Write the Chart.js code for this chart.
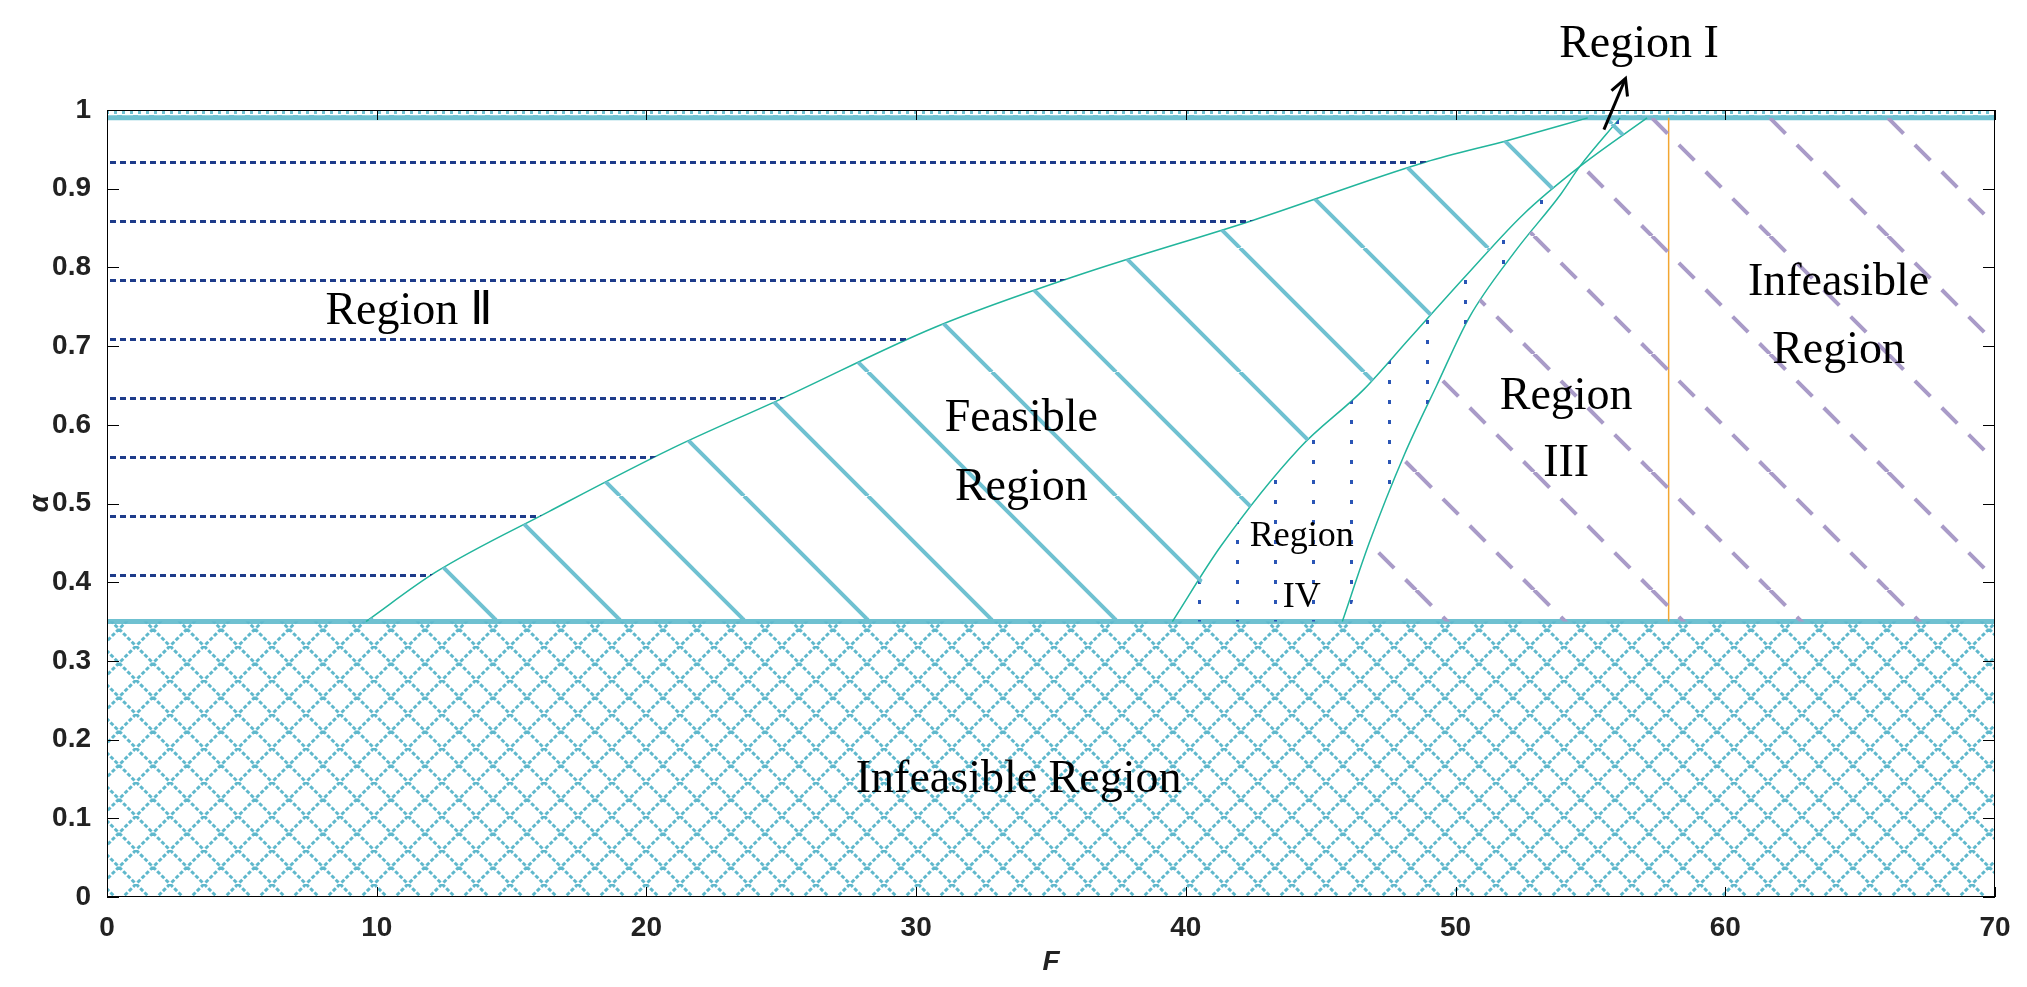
<!DOCTYPE html>
<html><head><meta charset="utf-8">
<script src="https://cdn.jsdelivr.net/npm/chart.js@4/dist/chart.umd.min.js"></script>
<style>html,body{margin:0;padding:0;background:#fff}#w{width:2027px;height:987px}</style>
</head><body><div id="w"><canvas id="c" width="2027" height="987"></canvas></div>
<script>
// ---- data (F, alpha) ----
const upperCurveF = [9.6, 12.2, 16.4, 20.95, 25, 30.7, 36, 42.5, 48.9, 52, 54.9];
const upperCurveA = [0.35, 0.413, 0.49, 0.57, 0.633, 0.724, 0.79, 0.86, 0.934, 0.962, 0.99];
const lowerFeasF = [39.5, 41.3, 44.2, 46.6, 48.3, 50.4, 52.5, 54.6, 57.1];
const lowerFeasA = [0.35, 0.446, 0.57, 0.645, 0.71, 0.79, 0.867, 0.928, 0.99];
const curveIIIF = [45.8, 46.8, 48.1, 49.3, 50.5, 52.2, 53.9, 54.6, 56.1];
const curveIIIA = [0.35, 0.45, 0.562, 0.65, 0.736, 0.82, 0.893, 0.928, 0.99];
const alphaMin = 0.35, alphaMax = 0.99;
const fMin = 0, fMax = 70, orangeF = 57.9;
const xTicks = [0,10,20,30,40,50,60,70];
const yTicks = [0,0.1,0.2,0.3,0.4,0.5,0.6,0.7,0.8,0.9,1];

const pts = (xs, ys) => xs.map((x,i)=>({x, y: ys[i]}));
const upper = pts(upperCurveF, upperCurveA);
const lowerFeas = pts(lowerFeasF, lowerFeasA);
const curveIII = pts(curveIIIF, curveIIIA);

// ---- patterns ----
function tile(w,h,draw){const c=document.createElement('canvas');c.width=w;c.height=h;const g=c.getContext('2d');draw(g,w,h);return g.createPattern(c,'repeat');}
const cyan='#6fc1d1', teal='#22b59c', purple='#a99bc8', navy='#1d3b8a', blue='#2a55b5';
const patFeas = tile(124,124,(g,w,h)=>{g.strokeStyle=cyan;g.lineWidth=4;for(const o of [-w,0,w]){g.beginPath();g.moveTo(o,0);g.lineTo(o+w,h);g.stroke();}});
const patIII = tile(118,118,(g,w,h)=>{g.strokeStyle=purple;g.lineWidth=4;g.setLineDash([22,16]);for(const o of [-w,0,w]){g.beginPath();g.moveTo(o,0);g.lineTo(o+w,h);g.stroke();}});
const patII = tile(10,59,(g,w,h)=>{g.fillStyle=navy;g.fillRect(0,43,6,3);});
const patIV = tile(38,20,(g,w,h)=>{g.fillStyle=blue;g.fillRect(20,0,3,4);});
const patX = tile(34,34,(g,w,h)=>{g.strokeStyle='#5fb8cc';g.lineWidth=3;g.setLineDash([4,2]);g.beginPath();g.moveTo(0,0);g.lineTo(w,h);g.moveTo(w,0);g.lineTo(0,h);g.stroke();});
const patTop = tile(16,10,(g,w,h)=>{g.fillStyle=cyan;g.fillRect(2,1,3,3);g.fillRect(10,1,3,3);g.fillRect(5,5,5,3);});

const curve = {cubicInterpolationMode:'monotone'};
const hidden = {borderWidth:0, pointRadius:0};
const datasets = [
 {data:[{x:fMin,y:alphaMin}].concat(upper), ...hidden, ...curve, fill:false},
 {data:[{x:fMin,y:alphaMax},{x:upperCurveF[upperCurveF.length-1],y:alphaMax}], ...hidden, fill:{target:0}, backgroundColor:patII},
 {data:[{x:upperCurveF[0],y:alphaMin}].concat(lowerFeas), ...hidden, ...curve, fill:false},
 {data:upper.concat([{x:lowerFeasF[lowerFeasF.length-1],y:alphaMax}]), ...hidden, ...curve, fill:{target:2}, backgroundColor:patFeas},
 {data:[{x:lowerFeasF[0],y:alphaMin}].concat(curveIII), ...hidden, ...curve, fill:false},
 {data:lowerFeas, ...hidden, ...curve, fill:{target:4}, backgroundColor:patIV},
 {data:[{x:curveIIIF[0],y:alphaMin},{x:fMax,y:alphaMin}], ...hidden, fill:false},
 {data:curveIII.concat([{x:fMax,y:alphaMax}]), ...hidden, ...curve, fill:{target:6}, backgroundColor:patIII},
 {data:[{x:fMin,y:alphaMin},{x:fMax,y:alphaMin}], ...hidden, fill:'start', backgroundColor:patX},
 {data:[{x:fMin,y:1},{x:fMax,y:1}], ...hidden, fill:{value:alphaMax}, backgroundColor:patTop},
 {data:upper, borderColor:teal, borderWidth:1.5, pointRadius:0, fill:false, ...curve},
 {data:lowerFeas, borderColor:teal, borderWidth:1.5, pointRadius:0, fill:false, ...curve},
 {data:curveIII, borderColor:teal, borderWidth:1.5, pointRadius:0, fill:false, ...curve},
 {data:[{x:orangeF,y:alphaMin},{x:orangeF,y:alphaMax}], borderColor:'#f2a632', borderWidth:1.5, pointRadius:0, fill:false},
 {data:[{x:fMin,y:alphaMin},{x:fMax,y:alphaMin}], borderColor:cyan, borderWidth:5, pointRadius:0, fill:false},
 {data:[{x:fMin,y:alphaMax},{x:fMax,y:alphaMax}], borderColor:cyan, borderWidth:5, pointRadius:0, fill:false},
];

const labels = [
 {t:'Region Ⅱ', x:11.2, y:0.744, s:46},
 {t:'Feasible', x:33.9, y:0.608, s:46}, {t:'Region', x:33.9, y:0.52, s:46},
 {t:'Region', x:54.1, y:0.636, s:46}, {t:'III', x:54.1, y:0.55, s:46},
 {t:'Infeasible', x:64.2, y:0.78, s:46}, {t:'Region', x:64.2, y:0.694, s:46},
 {t:'Region', x:44.3, y:0.458, s:36}, {t:'IV', x:44.3, y:0.38, s:36},
 {t:'Infeasible Region', x:33.8, y:0.149, s:46},
 {t:'Region I', x:56.8, y:1.083, s:46},
];

const deco = {id:'deco', afterDatasetsDraw(ch){
 const g=ch.ctx, a=ch.chartArea, xs=ch.scales.x, ys=ch.scales.y;
 g.save();
 g.strokeStyle='#000'; g.lineWidth=1;
 g.strokeRect(a.left+0.5,a.top+0.5,a.right-a.left-1,a.bottom-a.top-1);
 for(const v of xTicks){const p=Math.round(xs.getPixelForValue(v))+0.5;g.beginPath();g.moveTo(p,a.bottom);g.lineTo(p,a.bottom-10);g.moveTo(p,a.top);g.lineTo(p,a.top+10);g.stroke();}
 for(const v of yTicks){const p=Math.round(ys.getPixelForValue(v))+0.5;g.beginPath();g.moveTo(a.left,p);g.lineTo(a.left+12,p);g.moveTo(a.right,p);g.lineTo(a.right-12,p);g.stroke();}
 g.fillStyle='#000'; g.textAlign='center'; g.textBaseline='middle';
 for(const l of labels){g.font=l.s+'px "Liberation Serif", serif';g.fillText(l.t,xs.getPixelForValue(l.x),ys.getPixelForValue(l.y));}
 const x0=xs.getPixelForValue(55.5), y0=ys.getPixelForValue(0.975), x1=xs.getPixelForValue(56.3), y1=ys.getPixelForValue(1.04);
 g.lineWidth=3; g.beginPath(); g.moveTo(x0,y0); g.lineTo(x1,y1); g.stroke();
 g.beginPath(); g.moveTo(x1-14,y1+12); g.lineTo(x1,y1); g.lineTo(x1+2,y1+18); g.stroke();
 g.font='italic bold 28px "Liberation Sans", Arial'; g.fillStyle='#222';
 g.save(); g.translate(40,(a.top+a.bottom)/2); g.rotate(-Math.PI/2); g.fillText('α',0,0); g.restore();
 g.fillText('F',(a.left+a.right)/2,962);
 g.restore();
}};

new Chart(document.getElementById('c'),{
 type:'line', data:{datasets}, plugins:[deco],
 options:{responsive:false, animation:false, parsing:true,
  layout:{padding:{top:110,right:32,left:0,bottom:0}},
  plugins:{legend:{display:false}, tooltip:{enabled:false}, filler:{propagate:false}},
  scales:{
   x:{type:'linear', min:fMin, max:fMax, afterFit(s){s.height=90;},
      afterBuildTicks(s){s.ticks=xTicks.map(v=>({value:v}));},
      grid:{display:false}, border:{display:false},
      ticks:{color:'#222', font:{family:'"Liberation Sans", Arial', weight:'bold', size:28}, padding:6}},
   y:{type:'linear', min:0, max:1, afterFit(s){s.width=107;},
      afterBuildTicks(s){s.ticks=yTicks.map(v=>({value:v}));},
      grid:{display:false}, border:{display:false},
      ticks:{color:'#222', font:{family:'"Liberation Sans", Arial', weight:'bold', size:28}, padding:8,
        callback:v=> (v===0||v===1)? String(v) : v.toFixed(1)}}
  }}
});
</script></body></html>
